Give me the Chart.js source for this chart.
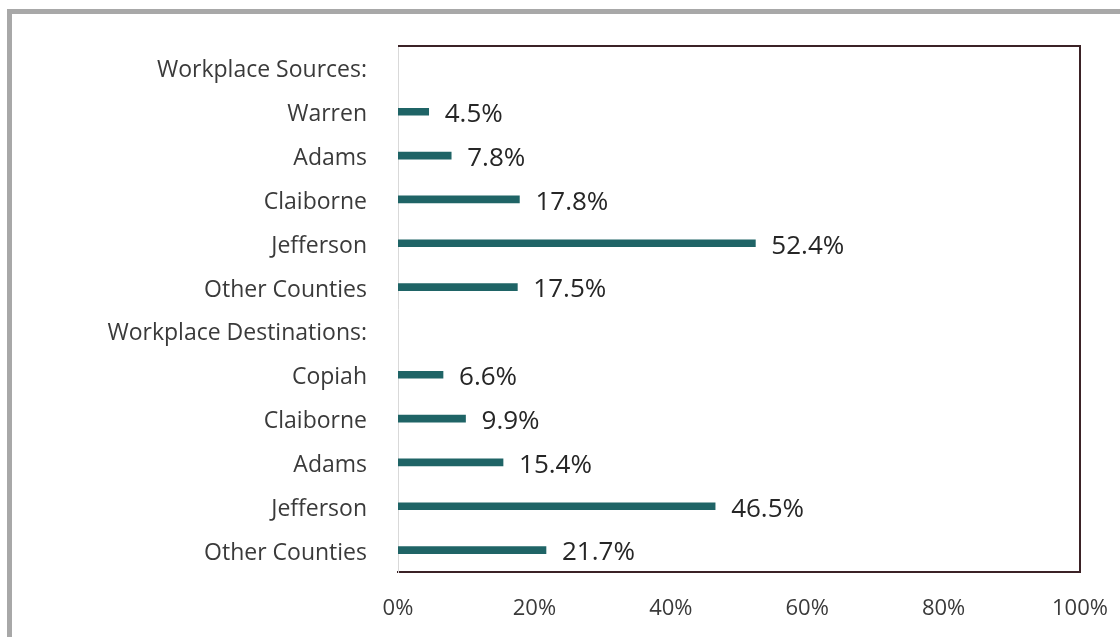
<!DOCTYPE html>
<html>
<head>
<meta charset="utf-8">
<script src="https://cdn.jsdelivr.net/npm/chart.js@4.4.0/dist/chart.umd.min.js"></script>
<style>
  html, body { margin: 0; padding: 0; background: #fff; }
  #wrap { position: relative; width: 1120px; height: 637px; overflow: hidden; }
  #frame { position: absolute; left: 7px; top: 9px; width: 1120px; height: 640px;
           border-top: 5px solid #a8a8a8; border-left: 5px solid #a8a8a8; }
  canvas { position: absolute; left: 0; top: 0; }
</style>
</head>
<body>
<div id="wrap">
  <div id="frame"></div>
  <canvas id="commuteChart" width="1120" height="637"></canvas>
</div>
<script>
// categories (headers have no bar)
const categories = [
    'Workplace Sources:', 'Warren', 'Adams', 'Claiborne', 'Jefferson', 'Other Counties',
    'Workplace Destinations:', 'Copiah', 'Claiborne', 'Adams', 'Jefferson', 'Other Counties'
];
const shares = [null, 4.5, 7.8, 17.8, 52.4, 17.5, null, 6.6, 9.9, 15.4, 46.5, 21.7];
const xTicks = [0, 20, 40, 60, 80, 100];

const barColor = '#1f6466';
const boxColor = '#3b2226';
const fontFamily = '"Open Sans", Lato, sans-serif';

// top + right edge of the plot box
const boxPlugin = {
    id: 'boxEdges',
    afterDraw(chart) {
        const { ctx, chartArea: a } = chart;
        ctx.save();
        ctx.strokeStyle = boxColor;
        ctx.lineWidth = 2;
        ctx.beginPath();
        ctx.moveTo(a.left, a.top);
        ctx.lineTo(a.right, a.top);
        ctx.lineTo(a.right, a.bottom);
        ctx.stroke();
        ctx.restore();
    }
};

// value labels after each bar
const valuePlugin = {
    id: 'valueLabels',
    afterDatasetsDraw(chart) {
        const ctx = chart.ctx;
        const meta = chart.getDatasetMeta(0);
        ctx.save();
        ctx.font = '26px ' + fontFamily;
        ctx.fillStyle = '#262626';
        ctx.textAlign = 'left';
        ctx.textBaseline = 'middle';
        meta.data.forEach((bar, i) => {
            const v = shares[i];
            if (v === null) return;
            ctx.fillText(v.toFixed(1) + '%', bar.x + 16, bar.y + 3);
        });
        ctx.restore();
    }
};

new Chart(document.getElementById('commuteChart').getContext('2d'), {
    type: 'bar',
    data: {
        labels: categories,
        datasets: [{
            data: shares,
            backgroundColor: barColor,
            barThickness: 7,
            borderWidth: 0
        }]
    },
    options: {
        indexAxis: 'y',
        responsive: false,
        animation: false,
        layout: { padding: { top: 46, right: 40, left: 0, bottom: 0 } },
        plugins: {
            legend: { display: false },
            tooltip: { enabled: false }
        },
        scales: {
            x: {
                min: 0,
                max: 100,
                afterBuildTicks(axis) {
                    axis.ticks = xTicks.map(v => ({ value: v }));
                },
                afterFit(axis) {
                    axis.height = 65;
                    axis.paddingRight = 0;
                    axis.paddingLeft = 0;
                },
                grid: { display: false, drawTicks: false },
                border: { display: true, color: boxColor, width: 2 },
                ticks: {
                    padding: 24,
                    color: '#3a3a3a',
                    font: { family: fontFamily, size: 22 },
                    callback: v => v + '%'
                }
            },
            y: {
                afterFit(axis) { axis.width = 398; },
                grid: { display: false, drawTicks: false },
                border: { display: true, color: '#d9d9d9', width: 1 },
                ticks: {
                    padding: 31,
                    labelOffset: 3,
                    color: '#3a3a3a',
                    font: { family: fontFamily, size: 23 }
                }
            }
        }
    },
    plugins: [boxPlugin, valuePlugin]
});
</script>
</body>
</html>
